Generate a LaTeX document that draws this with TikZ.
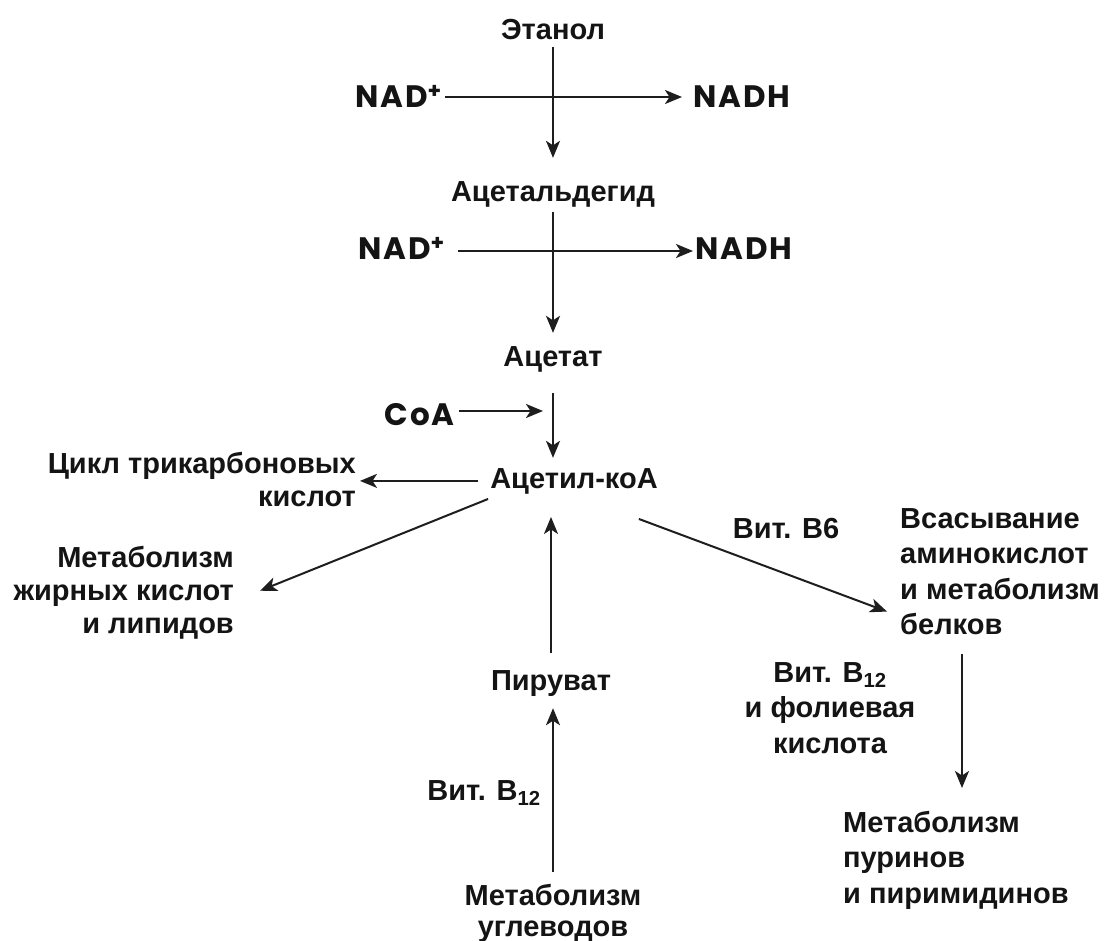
\documentclass[tikz,border=0pt]{standalone}
\usepackage{fontspec}
\setmainfont{Liberation Sans}
\newfontfamily\nadfont{Poppins}[LetterSpace=6]
\usetikzlibrary{arrows.meta,calc}
\definecolor{ink}{HTML}{141414}
\definecolor{wire}{HTML}{1E1E1E}
\begin{document}
\begin{tikzpicture}[x=1pt,y=-1pt,
  lbl/.style={inner sep=0pt, text=ink, font=\fontsize{29}{33}\selectfont\bfseries},
  wide/.style={font=\fontsize{29}{35.5}\selectfont\bfseries},
  cof/.style={inner sep=0pt, text=ink, font=\fontsize{31}{32}\selectfont\nadfont\bfseries},
  arr/.style={draw=wire, line width=2pt, -{Stealth[length=17pt,width=14pt,inset=4.5pt]}}]
\fill[white] (0,0) rectangle (1104,941);
\useasboundingbox (0,0) rectangle (1104,941);

\node[lbl,anchor=base] (etanol) at (553,40) {Этанол};
\node[cof,anchor=base east] (nad1) at (442,108) {NAD\textsuperscript{+}};
\node[cof,anchor=base west] (nadh1) at (693,108) {NADH};
\node[lbl,anchor=base] (acetald) at (553,202) {Ацетальдегид};
\node[cof,anchor=base east] (nad2) at (445,260) {NAD\textsuperscript{+}};
\node[cof,anchor=base west] (nadh2) at (695,260) {NADH};
\node[lbl,anchor=base] (acetat) at (553,367) {Ацетат};
\node[cof,anchor=base east] (coa) at (455,425) {CoA};
\node[lbl,anchor=base] (acetilcoa) at (574,488) {Ацетил-коА};
\node[lbl,anchor=north east,align=right] (cikl) at (356,452) {Цикл трикарбоновых\\кислот};
\node[lbl,anchor=north east,align=right] (lipid) at (234,546) {Метаболизм\\жирных кислот\\и липидов};
\node[lbl,anchor=base] (piruvat) at (551,690) {Пируват};
\node[lbl,anchor=north,align=center,font=\fontsize{29}{31}\selectfont\bfseries] (ugl) at (553,884) {Метаболизм\\углеводов};
\node[lbl,anchor=base] (vitb12a) at (484,800) {Вит. B\textsubscript{12}};
\node[lbl,anchor=base] (vitb6) at (786,538) {Вит. B6};
\node[lbl,wide,anchor=north west,align=left] (vsas) at (900,508) {Всасывание\\аминокислот\\и метаболизм\\белков};
\node[lbl,wide,anchor=north,align=center] (vitfol) at (830,662) {Вит. B\textsubscript{12}\\и фолиевая\\кислота};
\node[lbl,wide,anchor=north west,align=left] (purin) at (843,811) {Метаболизм\\пуринов\\и пиримидинов};

% main chain
\draw[arr, shorten <=7pt, shorten >=24pt] (etanol.south) -- (etanol.south |- acetald.north);
\draw[arr, shorten <=3pt, shorten >=11pt] ([yshift=11pt]nad1.base east) -- ([yshift=11pt]nadh1.base west);
\draw[arr, shorten <=4pt, shorten >=14pt] (acetald.south) -- (acetald.south |- acetat.north);
\draw[arr, shorten <=13pt, shorten >=2pt] ([yshift=9pt]nad2.base east) -- ([yshift=9pt]nadh2.base west);
\draw[arr, shorten <=20pt, shorten >=10pt] (acetat.south) -- (acetat.south |- acetilcoa.north);
\draw[arr, shorten <=4pt, shorten >=10pt] ([yshift=14pt]coa.base east) -- ([yshift=14pt]coa.base east -| acetat.south);
% branches from acetyl-CoA
\draw[arr, shorten <=12pt, shorten >=4pt] (acetilcoa.west) -- (acetilcoa.west -| cikl.east);
\draw[arr] ([shift={(-2,5)}]acetilcoa.south west) -- ([shift={(26,-2)}]lipid.east);
\draw[arr] ([shift={(-19,25)}]acetilcoa.south east) -- ([shift={(-13,40)}]vsas.west);
% upward
\draw[arr, shorten <=17pt, shorten >=23pt] (piruvat.north) -- (piruvat.north |- acetilcoa.south);
\draw[arr, shorten <=12pt, shorten >=12pt] (ugl.north) -- (ugl.north |- piruvat.south);
% right column
\draw[arr, shorten <=19pt, shorten >=23pt] ([xshift=62pt]vsas.south west) -- ([xshift=62pt]vsas.south west |- purin.north);
\end{tikzpicture}
\end{document}
